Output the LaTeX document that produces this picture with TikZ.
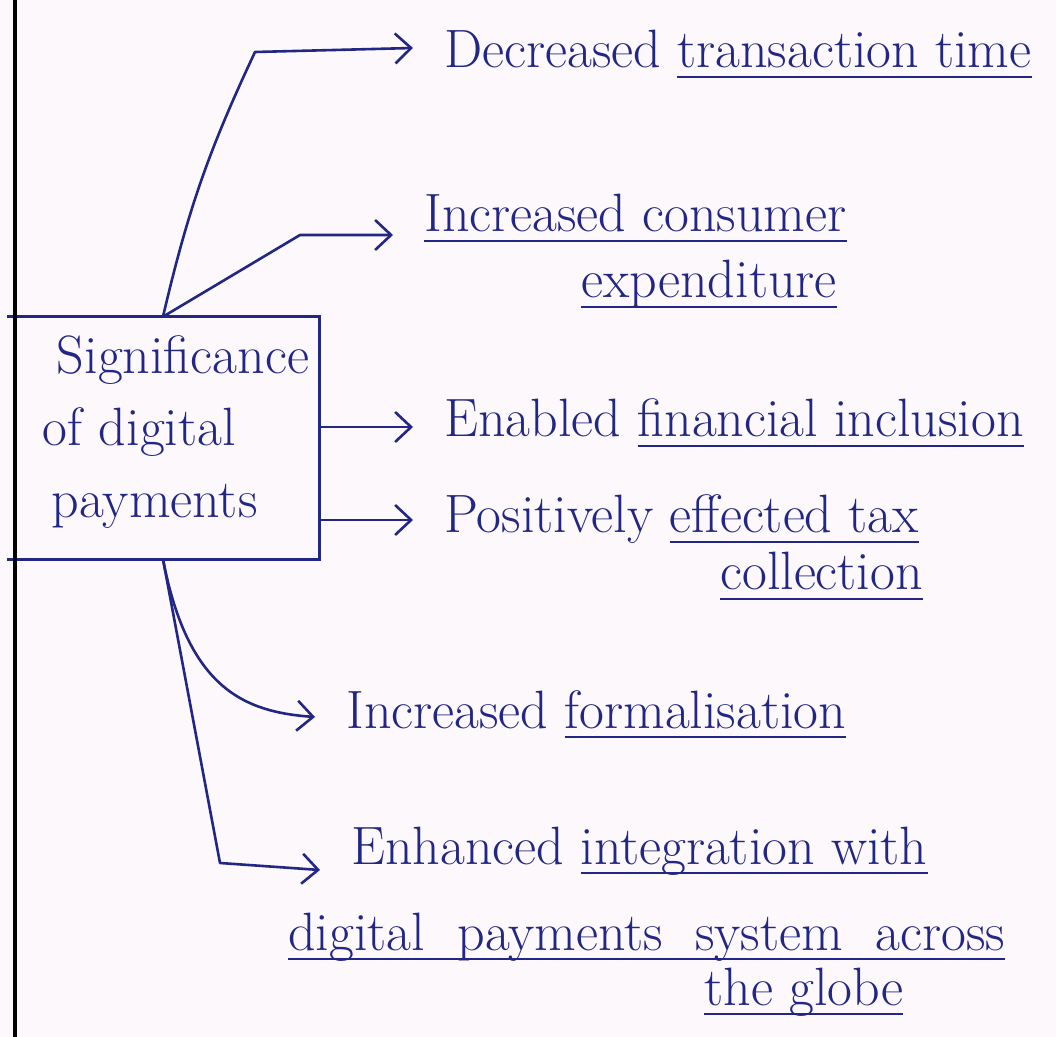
\documentclass[tikz,border=0pt]{standalone}
\usetikzlibrary{arrows.meta}

\definecolor{ink}{RGB}{34,38,132}
\definecolor{paper}{RGB}{252,248,252}
\newlength{\undlw}
\newcommand{\undl}[1]{\settowidth{\undlw}{#1}\rlap{\rule[-5pt]{\undlw}{1.2pt}}#1}
\newcommand{\widegaps}{\spaceskip=0.6em\relax}

\begin{document}
\begin{tikzpicture}[x=0.5pt, y=-0.5pt, line width=1.3pt, ink]
  \tikzset{every node/.style={font=\fontsize{27}{36}\selectfont, text=ink},
    item/.style={anchor=base west, inner xsep=15pt, inner ysep=0pt},
    more/.style={anchor=base west, inner sep=0pt},
    wide/.style={font=\fontsize{27}{36}\selectfont\widegaps},
    arr/.style={-{Straight Barb[length=8pt, width=15pt]}, line join=round, line cap=round}}
  \fill[paper] (0,0) rectangle (1056,1037);
  \useasboundingbox (0,0) rectangle (1056,1037);
  % centre box
  \node[minimum width=155pt, minimum height=120pt, inner sep=0pt] (box) at (163,438) {};
  \node[align=left, inner sep=0pt] (name) at (176,432)
    {\hspace*{7pt}Significance\\ of digital\\ \hspace*{4.5pt}payments};
  \draw (box.north west) -- (box.north east) -- (box.south east) -- (box.south west);
  \draw[black, line width=2pt] (15,0) -- (15,1037);
  % points
  \node[item] (t1) at (413,68) {Decreased \undl{transaction time}};
  \node[item] (t2) at (393,232) {\undl{Increased consumer}};
  \node[more] (t2b) at (580,298) {\undl{expenditure}};
  \node[item] (t3) at (413,437) {Enabled \undl{financial inclusion}};
  \node[item] (t4) at (413,533) {Positively \undl{effected tax}};
  \node[more] (t4b) at (719,590) {\undl{collection}};
  \node[item] (t5) at (315,728) {Increased \undl{formalisation}};
  \node[item] (t6) at (320,864) {Enhanced \undl{integration with}};
  \node[more, wide] (t6b) at (287,950) {\undl{digital payments system across}};
  \node[more] (t6c) at (703,1005) {\undl{the globe}};
  \coordinate (k1) at (255,52);
  \coordinate (k2) at (300,235);
  \coordinate (k6) at (220,863);
  \coordinate (e3) at ([yshift=5pt]t3.base west);
  \coordinate (e4) at ([yshift=6.5pt]t4.base west);
  % arrows
  \draw[arr] (box.north) to[bend left=6] (k1) -- ([yshift=10pt]t1.base west);
  \draw[arr] (box.north) -- (k2) -- ([yshift=-1.5pt]t2.base west);
  \draw[arr] (box.east |- e3) -- (e3);
  \draw[arr] (box.east |- e4) -- (e4);
  \draw[arr] (box.south) .. controls +(25,130) and +(-70,-5) .. ([yshift=5.5pt]t5.base west);
  \draw[arr] (box.south) -- (k6) -- ([yshift=-3pt]t6.base west);
\end{tikzpicture}
\end{document}
